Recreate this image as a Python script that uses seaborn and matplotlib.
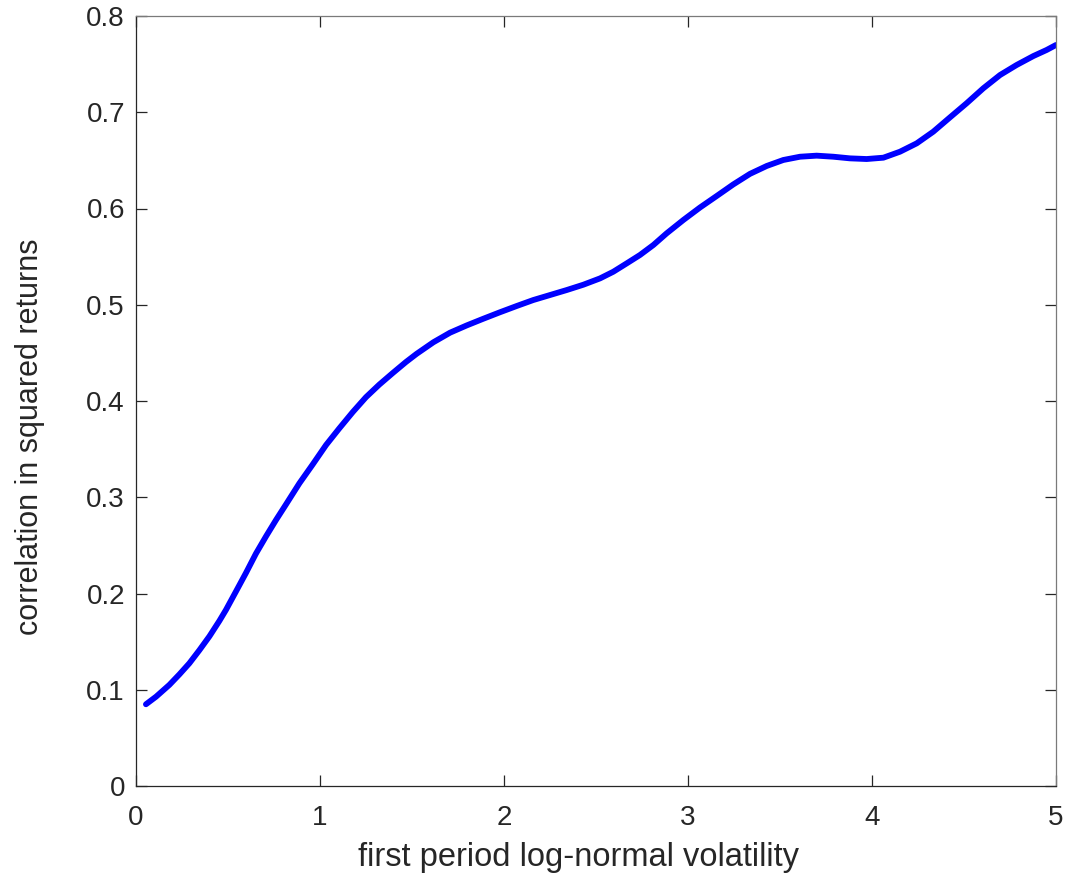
import numpy as np
import pandas as pd
import matplotlib
matplotlib.use("Agg")
import matplotlib.pyplot as plt
import seaborn as sns

# Values
volatility = [0.054, 0.109, 0.181, 0.236, 0.290, 0.344, 0.399, 0.453, 0.489, 0.543,
              0.598, 0.652, 0.707, 0.761, 0.815, 0.888, 0.960, 1.033, 1.105, 1.178,
              1.250, 1.322, 1.395, 1.467, 1.525, 1.616, 1.707, 1.797, 1.888, 1.978,
              2.069, 2.159, 2.250, 2.341, 2.431, 2.522, 2.594, 2.667, 2.739, 2.812,
              2.884, 2.975, 3.065, 3.156, 3.246, 3.337, 3.428, 3.518, 3.609, 3.699,
              3.790, 3.880, 3.971, 4.062, 4.152, 4.243, 4.333, 4.424, 4.514, 4.605,
              4.696, 4.786, 4.877, 4.949, 5.000]
correlation = [0.0849, 0.0928, 0.1050, 0.1160, 0.1275, 0.1410, 0.1555, 0.1715, 0.1830, 0.2020,
               0.2215, 0.2415, 0.2595, 0.2764, 0.2925, 0.3145, 0.3340, 0.3543, 0.3716, 0.3885,
               0.4040, 0.4170, 0.4290, 0.4405, 0.4490, 0.4610, 0.4710, 0.4785, 0.4855, 0.4922,
               0.4987, 0.5049, 0.5101, 0.5153, 0.5208, 0.5274, 0.5343, 0.5430, 0.5517, 0.5621,
               0.5742, 0.5881, 0.6010, 0.6130, 0.6250, 0.6360, 0.6442, 0.6504, 0.6538, 0.6549,
               0.6538, 0.6521, 0.6514, 0.6528, 0.6590, 0.6677, 0.6798, 0.6947, 0.7093, 0.7249,
               0.7387, 0.7491, 0.7584, 0.7647, 0.7699]
x_ticks = [0, 1, 2, 3, 4, 5]
y_ticks = [0, 0.1, 0.2, 0.3, 0.4, 0.5, 0.6, 0.7, 0.8]
y_tick_labels = ["0", "0.1", "0.2", "0.3", "0.4", "0.5", "0.6", "0.7", "0.8"]

sns.set_theme(style="white")
plt.rcParams['font.family'] = ['Liberation Sans', 'DejaVu Sans']

df = pd.DataFrame({"vol": volatility, "corr": correlation})

fig = plt.figure(figsize=(10.73, 8.82), dpi=100)
ax = fig.add_axes([136/1073, 1 - 786/882, 920/1073, 770/882])

sns.lineplot(data=df, x="vol", y="corr", ax=ax, color=(0, 0, 1), linewidth=4.2,
             solid_capstyle="round", solid_joinstyle="round")

ax.set_xlim(0, 5)
ax.set_ylim(0, 0.8)
ax.set_xticks(x_ticks)
ax.set_xticklabels([str(t) for t in x_ticks])
ax.set_yticks(y_ticks)
ax.set_yticklabels(y_tick_labels)

tc = "#262626"
for s in ax.spines.values():
    s.set_visible(True)
    s.set_color(tc)
    s.set_linewidth(0.9)
ax.spines["top"].set_color("#7a7a7a")
ax.spines["right"].set_color("#7a7a7a")
ax.tick_params(axis="both", which="major", direction="in", length=8, width=0.9,
               color=tc, labelcolor=tc, labelsize=20, top=True, right=True,
               bottom=True, left=True)
ax.tick_params(axis="x", pad=14)
ax.tick_params(axis="y", pad=8)

ax.set_xlabel("first period log-normal volatility", fontsize=23.5, color=tc, va="center")
ax.set_ylabel("correlation in squared returns", fontsize=22, color=tc, va="center")
ax.xaxis.set_label_coords(0.481, -0.0935)
ax.yaxis.set_label_coords(-0.115, 0.453)

fig.savefig("out.png", dpi=100)
